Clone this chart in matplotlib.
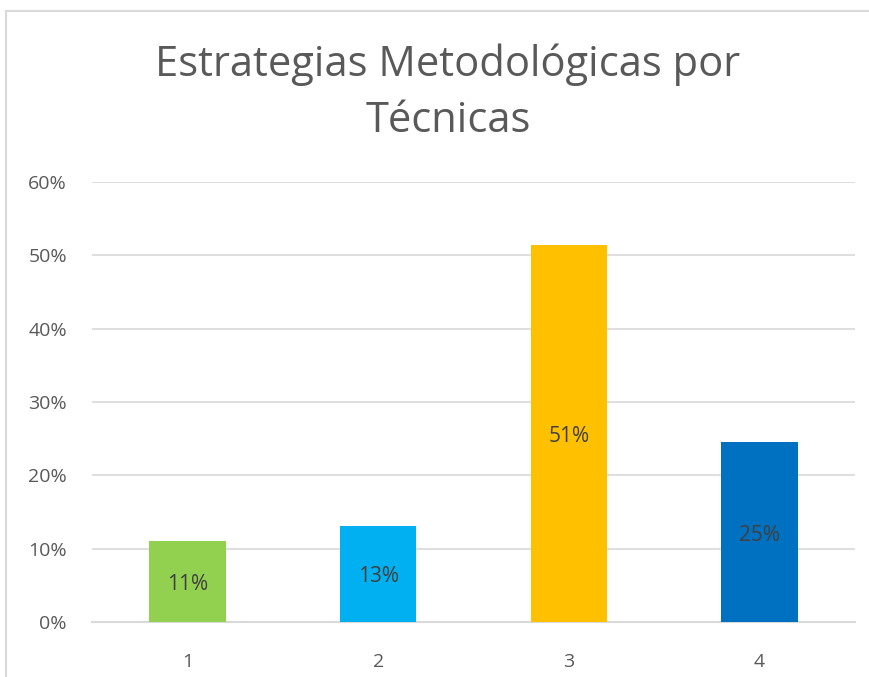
import matplotlib.pyplot as plt
from matplotlib.lines import Line2D
from matplotlib.ticker import PercentFormatter

plt.rcParams['font.family'] = ['Open Sans', 'DejaVu Sans']

categories = ['1', '2', '3', '4']
values = [0.11, 0.131, 0.514, 0.245]
labels = ['11%', '13%', '51%', '25%']
colors = ['#92d050', '#00b0f0', '#ffc000', '#0070c0']
yticks = [0, 0.1, 0.2, 0.3, 0.4, 0.5, 0.6]

fig = plt.figure(figsize=(8.7, 6.77), dpi=100)
# chart frame: only top and left edges fall inside the picture
top = 1 - 11 / 677
left = 6 / 870
fig.lines.append(Line2D([left, 1.0], [top, top], transform=fig.transFigure,
                        color='#d9d9d9', linewidth=1.5))
fig.lines.append(Line2D([left, left], [0, top], transform=fig.transFigure,
                        color='#d9d9d9', linewidth=1.5))

ax = fig.add_axes([92 / 870, 1 - 622 / 677, (855 - 92) / 870, (622 - 182) / 677])
x = range(len(categories))
bars = ax.bar(x, values, width=0.40, color=colors, zorder=3)
for b, lab in zip(bars, labels):
    ax.text(b.get_x() + b.get_width() / 2, b.get_height() / 2 - 0.004, lab,
            ha='center', va='center', fontsize=15, color='#404040', zorder=4)

ax.set_xlim(-0.5, 3.5)
ax.set_ylim(0, 0.6)
ax.set_yticks(yticks)
ax.yaxis.set_major_formatter(PercentFormatter(1.0, decimals=0))
ax.set_xticks(list(x))
ax.set_xticklabels(categories)
ax.tick_params(length=0, labelsize=14, labelcolor='#595959')
ax.tick_params(axis='x', pad=22)
ax.tick_params(axis='y', pad=18)
ax.grid(axis='y', color='#d9d9d9', linewidth=1.2, zorder=0)
for s in ['top', 'right', 'left']:
    ax.spines[s].set_visible(False)
ax.spines['bottom'].set_color('#d9d9d9')
ax.spines['bottom'].set_linewidth(1.5)

fig.text(448 / 870, 1 - 93 / 677, 'Estrategias Metodológicas por\nTécnicas',
         ha='center', va='center', fontsize=30, color='#595959', linespacing=1.45)

fig.savefig('out.png', dpi=100)
